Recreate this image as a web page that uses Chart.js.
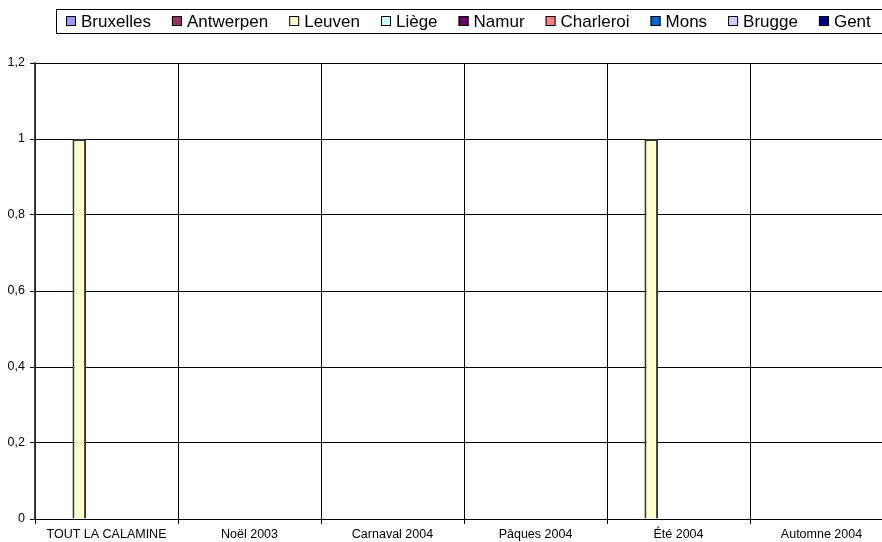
<!DOCTYPE html>
<html>
<head>
<meta charset="utf-8">
<script src="https://cdn.jsdelivr.net/npm/chart.js@4.4.1/dist/chart.umd.min.js"></script>
<style>
    html, body { margin: 0; padding: 0; background: #fff; overflow: hidden; }
    #wrap { position: relative; width: 900px; height: 542px; }
</style>
</head>
<body>
<div id="wrap"><canvas id="seasonChart" width="900" height="542"></canvas></div>
<script>
var categories = ['TOUT LA CALAMINE', 'Noël 2003', 'Carnaval 2004', 'Pâques 2004', 'Été 2004', 'Automne 2004'];
var cities = ['Bruxelles', 'Antwerpen', 'Leuven', 'Liège', 'Namur', 'Charleroi', 'Mons', 'Brugge', 'Gent'];
var cityColors = ['#9999FF', '#993366', '#FFFFCC', '#CCFFFF', '#660066', '#FF8080', '#0066CC', '#CCCCFF', '#000080'];

var bruxelles = [0, 0, 0, 0, 0, 0];
var antwerpen = [0, 0, 0, 0, 0, 0];
var leuven    = [1, 0, 0, 0, 1, 0];
var liege     = [0, 0, 0, 0, 0, 0];
var namur     = [0, 0, 0, 0, 0, 0];
var charleroi = [0, 0, 0, 0, 0, 0];
var mons      = [0, 0, 0, 0, 0, 0];
var brugge    = [0, 0, 0, 0, 0, 0];
var gent      = [0, 0, 0, 0, 0, 0];
var seriesValues = [bruxelles, antwerpen, leuven, liege, namur, charleroi, mons, brugge, gent];

var yTicks = [0, 0.2, 0.4, 0.6, 0.8, 1, 1.2];

(function () {
    var FONT = '"Liberation Sans", Arial, sans-serif';

    // Excel-like legend: boxed row of items at the top
    var boxLegend = {
        id: 'boxLegend',
        afterDraw: function (chart) {
            var ctx = chart.ctx;
            ctx.save();
            ctx.strokeStyle = '#000';
            ctx.lineWidth = 1;
            ctx.strokeRect(56.5, 9.5, chart.width, 24);
            ctx.font = '17px ' + FONT;
            ctx.textBaseline = 'middle';
            var x = 66;
            chart.data.datasets.forEach(function (ds) {
                ctx.fillStyle = ds.backgroundColor;
                ctx.fillRect(x, 16, 10, 10);
                ctx.strokeRect(x + 0.5, 16.5, 9, 9);
                ctx.fillStyle = '#000';
                ctx.fillText(ds.label, x + 15, 22);
                x += 15 + ctx.measureText(ds.label).width + 21;
            });
            ctx.restore();
        }
    };

    var datasets = cities.map(function (name, i) {
        return {
            label: name,
            data: seriesValues[i],
            backgroundColor: cityColors[i],
            borderColor: '#333',
            borderWidth: 2,
            categoryPercentage: 9 / 10.5,
            barPercentage: 1
        };
    });

    new Chart(document.getElementById('seasonChart').getContext('2d'), {
        type: 'bar',
        data: { labels: categories, datasets: datasets },
        plugins: [boxLegend],
        options: {
            responsive: false,
            animation: false,
            layout: { padding: { top: 63, right: 7, left: 0, bottom: 0 } },
            plugins: {
                legend: { display: false },
                tooltip: { enabled: false }
            },
            scales: {
                x: {
                    afterFit: function (s) { s.height = 23; },
                    grid: { color: '#000', lineWidth: 1, tickLength: 5, offset: true },
                    border: { color: '#000', width: 1 },
                    ticks: {
                        color: '#000',
                        padding: 3,
                        maxRotation: 0,
                        autoSkip: false,
                        font: { family: FONT, size: 12.5 }
                    }
                },
                y: {
                    min: 0,
                    max: 1.2,
                    afterFit: function (s) { s.width = 35; },
                    afterBuildTicks: function (s) {
                        s.ticks = yTicks.map(function (v) { return { value: v }; });
                    },
                    grid: { color: '#000', lineWidth: 1, tickLength: 5 },
                    border: { color: '#444', width: 1.5 },
                    ticks: {
                        color: '#000',
                        padding: 5,
                        font: { family: FONT, size: 12.5 },
                        callback: function (value) {
                            return String(Math.round(value * 10) / 10).replace('.', ',');
                        }
                    }
                }
            }
        }
    });
})();
</script>
</body>
</html>
